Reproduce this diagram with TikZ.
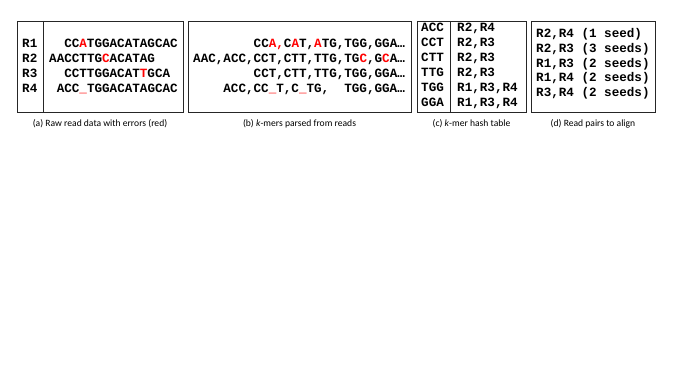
\documentclass[tikz,border=0pt]{standalone}
\usepackage{fontspec}
\setmainfont{Carlito}
\newfontfamily\cour{Liberation Mono}
\begin{document}
\begin{tikzpicture}[x=1pt,y=-1pt,
  seq/.style={anchor=base west, inner sep=0pt, font=\cour\bfseries\fontsize{12.6}{14}\selectfont},
  panel/.style={draw=black!85, line width=0.8pt},
  captxt/.style={anchor=center, inner sep=0pt, font=\fontsize{9.6}{11}\selectfont}]
\useasboundingbox (0,0) rectangle (677,379);
\newcommand{\R}[1]{\textcolor{red}{#1}}
% panel a
\draw[panel] (17,21) rectangle (183,112);
\draw[panel] (43,21) -- (43,112);
\node[seq] (ar1l) at (22,48) {R1};
\node[seq] (ar2l) at (22,63) {R2};
\node[seq] (ar3l) at (22,78) {R3};
\node[seq] (ar4l) at (22,93) {R4};
\node[seq] (ar1) at (64.1,48) {CC\R{A}TGGACATAGCAC};
\node[seq] (ar2) at (49,63) {AACCTTG\R{C}ACATAG};
\node[seq] (ar3) at (64.1,78) {CCTTGGACAT\R{T}GCA};
\node[seq] (ar4) at (56.6,93) {ACC\R{\_}TGGACATAGCAC};
\node[captxt] (capa) at (100,124) {(a) Raw read data with errors (red)};
% panel b
\draw[panel] (188,21) rectangle (411,112);
\node[seq] (br1) at (253.5,48) {CC\R{A,}C\R{A}T,\R{A}TG,TGG,GGA…};
\node[seq] (br2) at (193,63) {AAC,ACC,CCT,CTT,TTG,TG\R{C},G\R{C}A…};
\node[seq] (br3) at (253.5,78) {CCT,CTT,TTG,TGG,GGA…};
\node[seq] (br4) at (223.2,93) {ACC,CC\R{\_}T,C\R{\_}TG,\ \ TGG,GGA…};
\node[captxt] (capb) at (299.5,124) {(b) \textit{k}-mers parsed from reads};
% panel c
\draw[panel] (417,21) rectangle (526,112);
\draw[panel] (450,21) -- (450,112);
\foreach \k/\v [count=\i from 0] in {ACC/{R2,R4},CCT/{R2,R3},CTT/{R2,R3},TTG/{R2,R3},TGG/{R1,R3,R4},GGA/{R1,R3,R4}}{
  \node[seq] (ck\i) at (421,32+15*\i) {\k};
  \node[seq] (cv\i) at (457,32+15*\i) {\v};
}
\node[captxt] (capc) at (471.5,124) {(c) \textit{k}-mer hash table};
% panel d
\draw[panel] (531,21) rectangle (655,112);
\foreach \t [count=\i from 0] in {{R2,R4 (1 seed)},{R2,R3 (3 seeds)},{R1,R3 (2 seeds)},{R1,R4 (2 seeds)},{R3,R4 (2 seeds)}}{
  \node[seq] (d\i) at (536,37.5+14.8*\i) {\t};
}
\node[captxt] (capd) at (593,124) {(d) Read pairs to align};
\end{tikzpicture}
\end{document}
